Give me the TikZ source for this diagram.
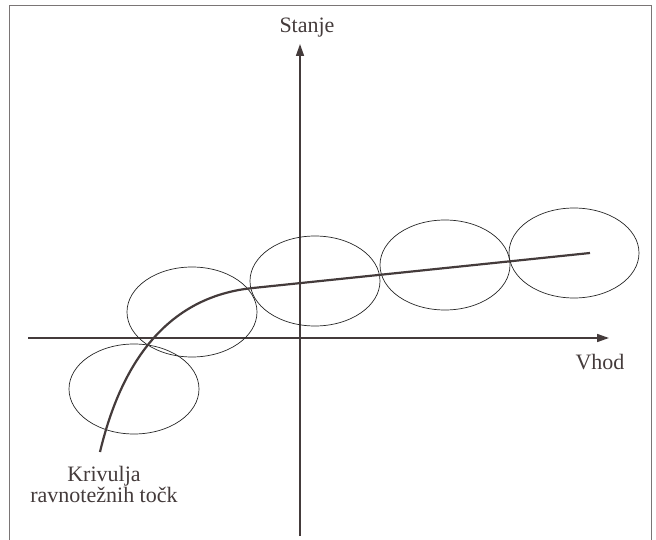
\documentclass[tikz,border=0pt]{standalone}
\usepackage{fontspec}
\setmainfont{Liberation Serif}
\usetikzlibrary{arrows.meta, calc}
\definecolor{axisgray}{HTML}{443B3B}
\definecolor{framegray}{HTML}{7A7575}
\tikzset{
  axisline/.style  = {draw=axisgray, line width=1.6pt, -{Triangle[length=12pt,width=8pt]}},
  eqcurve/.style   = {draw=axisgray, line width=2.2pt},
  region/.style    = {draw=black!85, line width=0.7pt},
  lab/.style       = {font=\fontsize{22}{18}\selectfont, text=axisgray, align=center, inner sep=0pt},
}

\begin{document}
\begin{tikzpicture}[x=1pt, y=-1pt]
\useasboundingbox (0,0) rectangle (656,540);

% Frame, open at the bottom
\draw [framegray, line width=1pt] (9,540) -- (9,6) -- (651,6) -- (651,540);

% Axes
\coordinate (xs) at (28,338);
\coordinate (xe) at (609,338);
\coordinate (ys) at (300,536);
\coordinate (ye) at (300,44);
\draw [axisline] (xs) -- (xe);
\draw [axisline] (ys) -- (ye);
\node (stanje) [lab, anchor=base] at (307,33) {Stanje};
\node (vhod) [lab, anchor=base] at (600,369) {Vhod};

% Neighbourhoods along the curve
\foreach \cx/\cy [count=\i] in {134/389, 192/312, 315/281, 445/265, 574/253}
  \draw [region] (\cx,\cy) ellipse [x radius=65, y radius=45];

% Curve of equilibrium points
\coordinate (c0) at (100,452);
\coordinate (c1) at (253,288);
\coordinate (c2) at (590,253);
\draw [eqcurve] (c0) .. controls (116,385) and (153,298) .. (c1) -- (c2);
\node (krivulja) [lab, anchor=north] at (104,466) {Krivulja\\ravnotežnih točk};

\end{tikzpicture}
\end{document}
